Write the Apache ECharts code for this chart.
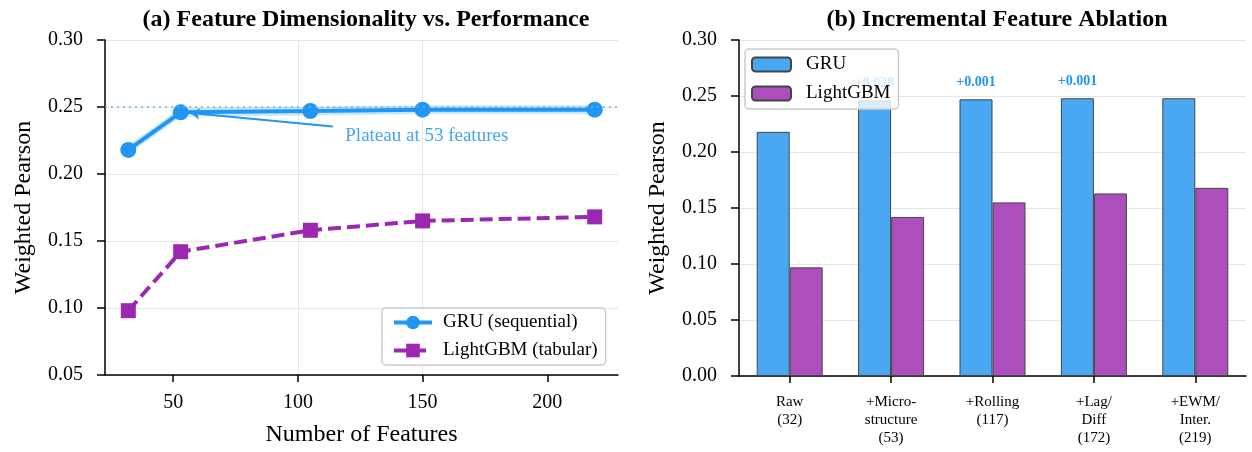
<!DOCTYPE html>
<html>
<head>
<meta charset="utf-8">
<script src="https://cdn.jsdelivr.net/npm/echarts@6/dist/echarts.min.js"></script>
<style>
  html, body { margin: 0; padding: 0; background: #fff; }
  #chart { width: 1252px; height: 452px; }
</style>
</head>
<body>
<div id="chart"></div>
<script>
// (a) feature dimensionality
var xFeatures = [32, 53, 105, 150, 219];
var gruLine = [0.218, 0.246, 0.247, 0.248, 0.248];
var gruStd = [0.003, 0.003, 0.003, 0.003, 0.003];
var lgbmLine = [0.098, 0.142, 0.158, 0.165, 0.168];
var xTicks = [50, 100, 150, 200];
var plateau = 0.246;

// (b) incremental ablation
var stages = ['Raw\n(32)', '+Micro-\nstructure\n(53)', '+Rolling\n(117)', '+Lag/\nDiff\n(172)', '+EWM/\nInter.\n(219)'];
var gruBars = [0.218, 0.246, 0.247, 0.248, 0.248];
var lgbmBars = [0.097, 0.142, 0.155, 0.163, 0.168];
var gains = ['', '+0.028', '+0.001', '+0.001', ''];

var serif = 'Liberation Serif';
var blue = '#2196F3', purple = '#9C27B0';

var chart = echarts.init(document.getElementById('chart'));

function pairs(ys) {
    return xFeatures.map(function (x, i) { return [x, ys[i]]; });
}

// std band round the GRU line, drawn through the axis scales
function renderBand(params, api) {
    var upper = [], lower = [];
    for (var i = 0; i < xFeatures.length; i++) {
        upper.push(api.coord([xFeatures[i], gruLine[i] + gruStd[i]]));
        lower.unshift(api.coord([xFeatures[i], gruLine[i] - gruStd[i]]));
    }
    return {
        type: 'polygon',
        shape: { points: upper.concat(lower) },
        style: { fill: 'rgba(33,150,243,0.22)', stroke: 'rgba(33,150,243,0.12)', lineWidth: 1 }
    };
}

var yLabel = { fontFamily: serif, fontSize: 20, color: '#000', margin: 22, formatter: function (v) { return v.toFixed(2); } };
var axisLine = { show: true, lineStyle: { color: '#000', width: 1.5 } };
var grid = { lineStyle: { color: '#e6e6e6', width: 1 } };
var nameStyle = { fontFamily: serif, fontSize: 24, color: '#000' };

var option = {
    animation: false,
    backgroundColor: '#fff',
    title: [
        { text: '(a) Feature Dimensionality vs. Performance', left: 361, top: 3, textAlign: 'center',
          textStyle: { fontFamily: serif, fontSize: 24, fontWeight: 'bold', color: '#000' } },
        { text: '(b) Incremental Feature Ablation', left: 992, top: 3, textAlign: 'center',
          textStyle: { fontFamily: serif, fontSize: 24, fontWeight: 'bold', color: '#000' } }
    ],
    legend: [
        { data: ['GRU (sequential)', 'LightGBM (tabular)'], orient: 'vertical', left: 382, top: 308,
          itemWidth: 38, itemHeight: 17, itemGap: 9, padding: [5, 8, 5, 10],
          lineStyle: { width: 4 },
          backgroundColor: 'rgba(255,255,255,0.8)', borderColor: '#ccc', borderWidth: 1.5, borderRadius: 4,
          textStyle: { fontFamily: serif, fontSize: 19, color: '#000', padding: [0, 0, 0, 6] } },
        { data: ['GRU', 'LightGBM'], orient: 'vertical', left: 745, top: 49,
          itemWidth: 39, itemHeight: 14, itemGap: 10, padding: [6, 8, 6, 6],
          backgroundColor: 'rgba(255,255,255,0.8)', borderColor: '#ccc', borderWidth: 1.5, borderRadius: 4,
          textStyle: { fontFamily: serif, fontSize: 19, color: '#000', padding: [0, 0, 0, 10] } }
    ],
    grid: [
        { left: 105, top: 40, width: 513, height: 337 },
        { left: 739, top: 40, width: 507, height: 336 }
    ],
    xAxis: [
        { type: 'value', gridIndex: 0, min: 22.65, max: 228.35, splitNumber: 4,
          name: 'Number of Features', nameLocation: 'middle', nameGap: 48, nameTextStyle: nameStyle,
          axisLine: axisLine,
          axisTick: { show: true, length: 7, customValues: xTicks, lineStyle: { color: '#000', width: 1.5 } },
          axisLabel: { fontFamily: serif, fontSize: 20, color: '#000', margin: 18, customValues: xTicks },
          splitLine: { show: true, showMinLine: false, showMaxLine: false, lineStyle: grid.lineStyle } },
        { type: 'category', gridIndex: 1, data: stages,
          axisLine: axisLine,
          axisTick: { show: true, alignWithLabel: true, length: 7, lineStyle: { color: '#000', width: 1.5 } },
          axisLabel: { fontFamily: serif, fontSize: 15, lineHeight: 18, color: '#000', margin: 17, interval: 0 },
          splitLine: { show: false } }
    ],
    yAxis: [
        { type: 'value', gridIndex: 0, min: 0.05, max: 0.30, interval: 0.05,
          name: 'Weighted Pearson', nameLocation: 'middle', nameGap: 69, nameRotate: 90, nameTextStyle: nameStyle,
          axisLine: axisLine,
          axisTick: { show: true, length: 8, lineStyle: { color: '#000', width: 1.5 } },
          axisLabel: yLabel, splitLine: grid },
        { type: 'value', gridIndex: 1, min: 0, max: 0.30, interval: 0.05,
          name: 'Weighted Pearson', nameLocation: 'middle', nameGap: 69, nameRotate: 90, nameTextStyle: nameStyle,
          axisLine: axisLine,
          axisTick: { show: true, length: 8, lineStyle: { color: '#000', width: 1.5 } },
          axisLabel: yLabel, splitLine: grid }
    ],
    series: [
        { name: 'band', type: 'custom', xAxisIndex: 0, yAxisIndex: 0, silent: true,
          data: [[xFeatures[0], gruLine[0]]], renderItem: renderBand, z: 1 },
        { name: 'GRU (sequential)', type: 'line', xAxisIndex: 0, yAxisIndex: 0, data: pairs(gruLine),
          symbol: 'circle', symbolSize: 16, itemStyle: { color: blue },
          lineStyle: { color: blue, width: 4 }, z: 3,
          markLine: {
              silent: true, animation: false, symbol: 'none',
              label: { show: false },
              data: [
                  { yAxis: plateau, lineStyle: { color: '#64B5F6', type: [2, 4], width: 1.5 } },
                  [ { coord: [114, 0.2355], symbol: 'none', lineStyle: { color: blue, width: 2, type: 'solid' } },
                    { coord: [57, 0.2455], symbol: 'arrow', symbolSize: 9 } ]
              ]
          },
          markPoint: {
              silent: true, symbol: 'circle', symbolSize: 0,
              data: [ { coord: [119, 0.2287], value: 'Plateau at 53 features' } ],
              label: { show: true, position: 'right', distance: 0, formatter: '{c}',
                       fontFamily: serif, fontSize: 19, color: '#42A5F5' }
          } },
        { name: 'LightGBM (tabular)', type: 'line', xAxisIndex: 0, yAxisIndex: 0, data: pairs(lgbmLine),
          symbol: 'rect', symbolSize: 15, itemStyle: { color: purple },
          lineStyle: { color: purple, width: 4, type: [13, 6] }, z: 3 },
        { name: 'GRU', type: 'bar', xAxisIndex: 1, yAxisIndex: 1, data: gruBars,
          barWidth: 33, barGap: '0%',
          itemStyle: { color: '#4AA8F2', borderColor: '#444', borderWidth: 1 },
          label: { show: true, position: 'top', distance: 10,
                   formatter: function (p) { return gains[p.dataIndex]; },
                   fontFamily: serif, fontSize: 14, fontWeight: 'bold', color: '#2196F3' } },
        { name: 'LightGBM', type: 'bar', xAxisIndex: 1, yAxisIndex: 1, data: lgbmBars,
          barWidth: 33,
          itemStyle: { color: '#AC4FBC', borderColor: '#444', borderWidth: 1 } }
    ]
};

chart.setOption(option);
</script>
</body>
</html>
